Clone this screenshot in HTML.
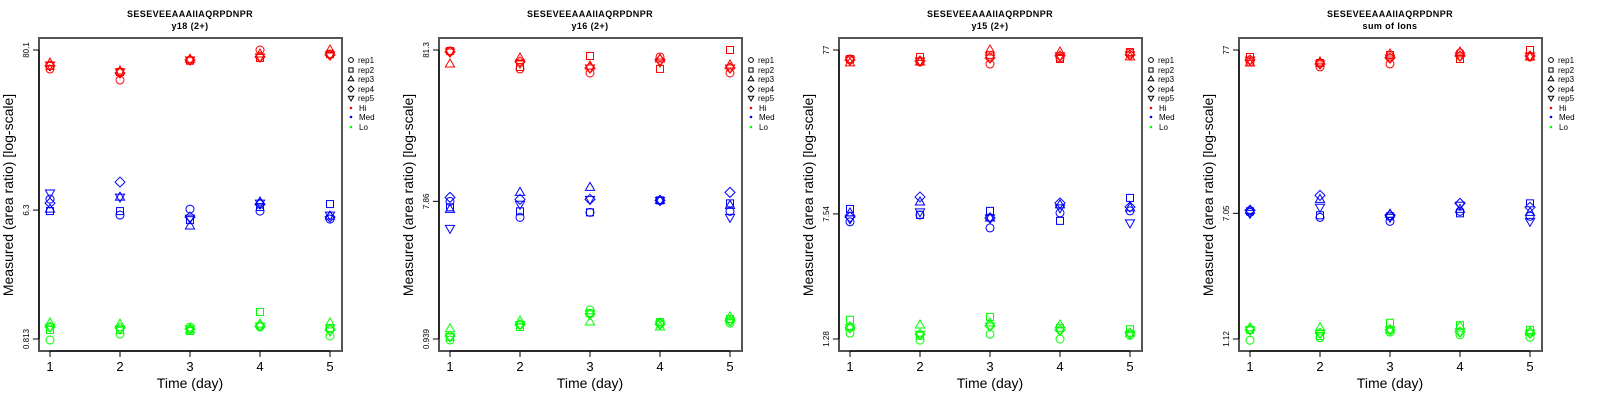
<!DOCTYPE html>
<html><head><meta charset="utf-8"><style>
html,body{margin:0;padding:0;background:#fff;}
svg{display:block;font-family:"Liberation Sans",sans-serif;}
</style></head><body>
<svg id="chart" width="1600" height="400" viewBox="0 0 1600 400" xmlns="http://www.w3.org/2000/svg"></svg>
<script>
const days = [1, 2, 3, 4, 5];
const repNames = ["rep1", "rep2", "rep3", "rep4", "rep5"];
const groupNames = ["Hi", "Med", "Lo"];
const panelTitles = ["y18 (2+)", "y16 (2+)", "y15 (2+)", "sum of Ions"];
const peptide = "SESEVEEAAAIIAQRPDNPR";
const yTickLabels = [["0.813","6.3","80.1"],["0.939","7.86","81.3"],["1.28","7.54","77"],["1.12","7.05","77"]];
const yTickValues = [[0.813,6.3,80.1],[0.939,7.86,81.3],[1.28,7.54,77],[1.12,7.05,77]];

const p1Hi = [[59.2,49.7,68.3,80.1,75.1],[62.2,56.5,67.5,70.6,75.1],[65.1,57.4,69.2,75.1,80.1],[62.2,55.6,68.3,71.7,74.0],[63.1,56.5,68.3,71.7,74.0]];
const p1Med = [[7.50,5.82,6.40,6.20,5.46],[6.20,6.20,5.37,6.61,6.93],[6.40,7.74,4.89,7.16,5.73],[7.04,9.83,5.64,6.93,5.64],[8.26,7.74,5.55,7.04,5.82]];
const p1Lo = [[0.80,0.88,0.984,0.984,0.853],[0.938,0.938,0.923,1.25,0.968],[1.05,1.03,0.938,1.03,1.05],[0.984,0.968,0.953,0.999,0.938],[0.984,0.953,0.953,0.999,0.923]];

const p2Hi = [[80.1,60.7,57.0,73.0,57.0],[80.1,62.5,74.1,60.7,81.3],[65.5,71.9,63.5,70.7,64.5],[78.9,67.6,61.6,69.7,61.6],[78.9,66.5,61.6,67.6,61.6]];
const p2Med = [[7.86,6.14,6.63,7.98,6.74],[7.17,6.74,6.63,7.98,7.62],[6.95,9.03,9.75,7.98,7.39],[8.36,8.11,8.11,7.98,9.03],[5.18,7.51,8.11,7.98,6.14]];
const p2Lo = [[0.925,1.17,1.47,1.20,1.20],[0.968,1.13,1.40,1.22,1.28],[1.10,1.24,1.22,1.13,1.32],[0.983,1.17,1.38,1.18,1.24],[0.968,1.17,1.38,1.18,1.24]];

const p3Hi = [[67.8,65.0,63.1,68.8,73.8],[67.8,69.8,71.8,67.8,74.8],[64.1,65.0,77,74.8,69.8],[66.8,65.9,68.8,70.8,71.8],[66.8,65.9,68.8,70.8,71.8]];
const p3Med = [[6.74,7.43,6.18,7.65,7.87],[8.09,7.43,7.87,6.83,9.46],[7.65,8.93,7.12,8.57,8.21],[7.22,9.59,7.12,8.81,8.32],[7.03,7.76,7.12,8.21,6.64]];
const p3Lo = [[1.39,1.26,1.37,1.28,1.35],[1.68,1.34,1.75,1.50,1.47],[1.52,1.56,1.61,1.56,1.39],[1.50,1.37,1.54,1.45,1.39],[1.50,1.37,1.54,1.45,1.37]];

const p4Hi = [[64.6,60.1,62.8,73.7,69.5],[69.5,63.7,71.5,67.5,77],[63.7,64.6,72.6,74.8,69.5],[66.5,62.8,68.5,70.5,70.5],[66.5,62.8,68.5,70.5,70.5]];
const p4Med = [[7.15,6.65,6.27,7.26,6.75],[7.26,6.85,6.75,7.05,8.16],[7.37,8.65,6.95,7.47,7.15],[7.37,9.17,6.85,8.16,7.70],[7.05,7.70,6.65,7.93,6.27]];
const p4Lo = [[1.10,1.14,1.24,1.19,1.15],[1.28,1.17,1.42,1.37,1.28],[1.32,1.32,1.28,1.35,1.24],[1.28,1.22,1.28,1.24,1.22],[1.28,1.22,1.28,1.24,1.22]];

const panelData = [[p1Hi,p1Med,p1Lo],[p2Hi,p2Med,p2Lo],[p3Hi,p3Med,p3Lo],[p4Hi,p4Med,p4Lo]];
const colors = ["#ff0000","#0000ff","#00ff00"];
const NS = "http://www.w3.org/2000/svg";
const svg = document.getElementById("chart");

function mk(tag, attrs, parent){
  const e = document.createElementNS(NS, tag);
  for (const k in attrs) e.setAttribute(k, attrs[k]);
  parent.appendChild(e);
  return e;
}
function marker(parent, shape, cx, cy, color, s){
  let e;
  if (shape===0) e = mk("circle",{cx:cx,cy:cy,r:4*s,fill:"none",stroke:color,"stroke-width":1},parent);
  else if (shape===1) e = mk("rect",{x:cx-3.5*s,y:cy-3.5*s,width:7*s,height:7*s,fill:"none",stroke:color,"stroke-width":1},parent);
  else if (shape===2) e = mk("polygon",{points:`${cx},${cy-5*s} ${cx-4.6*s},${cy+3*s} ${cx+4.6*s},${cy+3*s}`,fill:"none",stroke:color,"stroke-width":1},parent);
  else if (shape===3) e = mk("polygon",{points:`${cx},${cy-5*s} ${cx+5*s},${cy} ${cx},${cy+5*s} ${cx-5*s},${cy}`,fill:"none",stroke:color,"stroke-width":1},parent);
  else e = mk("polygon",{points:`${cx},${cy+5*s} ${cx-4.6*s},${cy-3*s} ${cx+4.6*s},${cy-3*s}`,fill:"none",stroke:color,"stroke-width":1},parent);
  return e;
}

panelData.forEach((groups, pi) => {
  const g = mk("g",{transform:`translate(${pi*400},0)`},svg);
  
  
  const tv = yTickValues[pi];
  const lmin = Math.log10(tv[0]), lmax = Math.log10(tv[2]);
  const yS = v => 50 + (lmax - Math.log10(v)) / (lmax - lmin) * 289;
  const xS = d => 50 + (d - 1) * 70;

  const t1 = mk("text",{x:190,y:17,"text-anchor":"middle","font-size":9,"font-weight":"bold","letter-spacing":"0.4"},g);
  t1.textContent = peptide;
  
  
  const t2 = mk("text",{x:190,y:29,"text-anchor":"middle","font-size":9,"font-weight":"bold","letter-spacing":"0.4"},g);
  t2.textContent = panelTitles[pi];
  
  

  const box = mk("rect",{x:39,y:38,width:303,height:313,fill:"none",stroke:"#555","stroke-width":2},g);
  
  

  days.forEach(d => {
    const x = xS(d);
    mk("line",{x1:x,y1:351,x2:x,y2:357,stroke:"#000","stroke-width":1},g);
    const tl = mk("text",{x:x,y:371,"text-anchor":"middle","font-size":13},g);
    tl.textContent = d;
    
    
  });
  mk("line",{x1:50,y1:351,x2:330,y2:351,stroke:"#000","stroke-width":1},g);
  tv.forEach((v, i) => {
    const y = yS(v);
    mk("line",{x1:33,y1:y,x2:39,y2:y,stroke:"#000","stroke-width":1},g);
    const tl = mk("text",{x:0,y:0,"text-anchor":"middle","font-size":8,transform:`translate(29,${y}) rotate(-90)`},g);
    tl.textContent = yTickLabels[pi][i];
    
    
  });
  mk("line",{x1:39,y1:yS(tv[0]),x2:39,y2:yS(tv[2]),stroke:"#000","stroke-width":1},g);

  const xt = mk("text",{x:190,y:388,"text-anchor":"middle","font-size":14},g);
  xt.textContent = "Time (day)";
  
  
  const yt = mk("text",{x:0,y:0,"text-anchor":"middle","font-size":14,transform:"translate(13,195) rotate(-90)"},g);
  yt.textContent = "Measured (area ratio) [log-scale]";
  
  

  groups.forEach((reps, gi) => {
    reps.forEach((vals, ri) => {
      vals.forEach((v, di) => {
        const m = marker(g, ri, xS(days[di]), yS(v), colors[gi], 1);
        
        
      });
    });
  });

  const lg = mk("g",{},g);
  
  
  const rowsY = [60,70,79,89,98,108,117,127];
  repNames.forEach((r, i) => {
    const sm = marker(lg, i, 351, rowsY[i], "#000", 0.6);
    
    
    const tx = mk("text",{x:358,y:rowsY[i]+3,"font-size":8},lg);
    tx.textContent = r;
    
    
  });
  groupNames.forEach((n, i) => {
    const y = rowsY[5+i];
    const dt = mk("circle",{cx:351,cy:y,r:1.3,fill:colors[i]},lg);
    
    
    const tx = mk("text",{x:359,y:y+3,"font-size":8},lg);
    tx.textContent = n;
    
    
  });
});
</script>
</body></html>
